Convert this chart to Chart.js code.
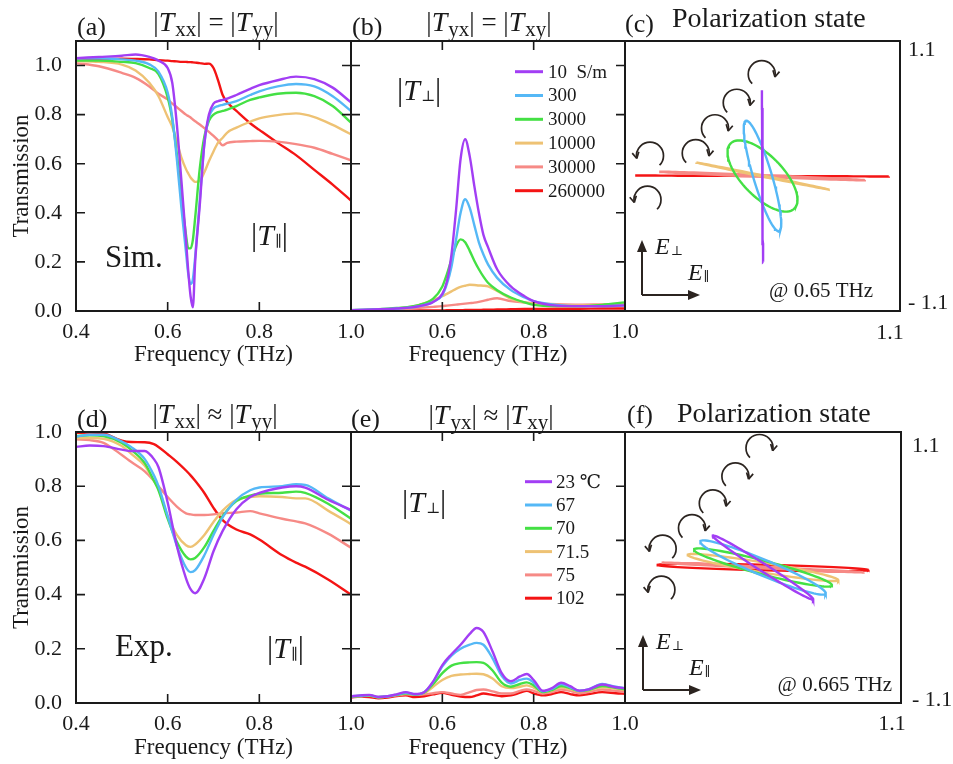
<!DOCTYPE html>
<html>
<head>
<meta charset="utf-8">
<script src="https://cdn.jsdelivr.net/npm/chart.js@4.4.1/dist/chart.umd.min.js"></script>
<style>
html,body{margin:0;padding:0;background:#fff;}
#fig{position:relative;width:953px;height:764px;overflow:hidden;background:#fff;}
canvas{position:absolute;}
</style>
</head>
<body>
<div id="fig"></div>
<script>
// ---------- data ----------
const simLabels = ['10  S/m', '300', '3000', '10000', '30000', '260000'];
const expLabels = ['23 \u2103', '67', '70', '71.5', '75', '102'];
const lineColors = ['#a23ef4', '#55b8f6', '#44e044', '#eec274', '#f68a86', '#f41414'];

const xTicks = [0.4, 0.6, 0.8, 1.0];
const yTicks = [0, 0.2, 0.4, 0.6, 0.8, 1.0];

// (a) simulated |T_par|
const freqA = [0.40,0.45,0.50,0.53,0.56,0.58,0.60,0.61,0.62,0.63,0.64,0.645,0.65,0.655,0.66,0.67,0.68,0.69,0.70,0.71,0.72,0.73,0.75,0.78,0.80,0.84,0.88,0.92,0.96,1.00];
const aPurple = [1.03,1.035,1.04,1.045,1.035,1.02,0.99,0.93,0.76,0.53,0.29,0.16,0.06,0.015,0.20,0.43,0.68,0.80,0.845,0.855,0.86,0.865,0.88,0.905,0.92,0.94,0.955,0.945,0.91,0.85];
const aBlue   = [1.03,1.03,1.025,1.02,1.005,0.975,0.89,0.79,0.62,0.42,0.24,0.15,0.11,0.13,0.22,0.45,0.68,0.79,0.825,0.835,0.84,0.845,0.855,0.88,0.895,0.915,0.925,0.915,0.875,0.815];
const aGreen  = [1.02,1.02,1.015,1.01,0.99,0.965,0.87,0.78,0.64,0.47,0.31,0.255,0.255,0.29,0.38,0.58,0.71,0.775,0.80,0.81,0.815,0.82,0.835,0.86,0.87,0.885,0.889,0.875,0.835,0.767];
const aOrange = [1.018,1.015,1.004,0.98,0.93,0.875,0.79,0.75,0.69,0.625,0.578,0.56,0.544,0.533,0.526,0.53,0.565,0.61,0.65,0.686,0.706,0.727,0.747,0.771,0.785,0.798,0.805,0.79,0.758,0.72];
const aPink   = [1.01,0.997,0.97,0.95,0.915,0.885,0.862,0.845,0.83,0.815,0.80,0.794,0.788,0.78,0.773,0.76,0.745,0.73,0.713,0.695,0.675,0.685,0.69,0.692,0.693,0.69,0.68,0.665,0.64,0.614];
const aRed    = [1.02,1.024,1.028,1.027,1.025,1.022,1.02,1.018,1.017,1.015,1.015,1.014,1.014,1.013,1.012,1.01,1.007,1.008,0.99,0.94,0.88,0.85,0.815,0.765,0.738,0.685,0.635,0.575,0.515,0.45];

// (b) simulated |T_perp|
const freqB = [0.40,0.45,0.50,0.55,0.58,0.60,0.61,0.62,0.63,0.64,0.65,0.66,0.67,0.68,0.69,0.70,0.72,0.75,0.78,0.80,0.85,0.90,0.95,1.00];
const bPurple = [0.003,0.006,0.01,0.02,0.037,0.07,0.12,0.23,0.41,0.62,0.70,0.63,0.51,0.40,0.31,0.26,0.17,0.10,0.06,0.04,0.022,0.02,0.02,0.023];
const bBlue   = [0.003,0.006,0.01,0.02,0.037,0.065,0.11,0.18,0.29,0.40,0.455,0.42,0.35,0.28,0.23,0.19,0.135,0.085,0.055,0.04,0.025,0.02,0.02,0.022];
const bGreen  = [0.003,0.006,0.012,0.025,0.05,0.10,0.15,0.21,0.265,0.292,0.28,0.245,0.205,0.17,0.14,0.115,0.085,0.055,0.035,0.025,0.02,0.02,0.025,0.035];
const bOrange = [0.002,0.005,0.01,0.025,0.045,0.06,0.07,0.08,0.09,0.098,0.103,0.107,0.106,0.104,0.103,0.10,0.082,0.05,0.035,0.03,0.025,0.023,0.025,0.027];
const bPink   = [0.002,0.004,0.008,0.013,0.017,0.02,0.022,0.024,0.026,0.028,0.03,0.032,0.034,0.037,0.041,0.046,0.052,0.04,0.035,0.032,0.028,0.026,0.027,0.028];
const bRed    = [0.001,0.001,0.001,0.002,0.002,0.002,0.003,0.003,0.003,0.003,0.004,0.004,0.004,0.004,0.005,0.005,0.006,0.007,0.008,0.008,0.009,0.009,0.01,0.01];

// (c) polarization ellipses at 0.65 THz: amplitudes and phase difference
const cEx = [0.005, 0.15, 0.28, 0.53, 0.82, 1.01];
const cEy = [0.70, 0.45, 0.29, 0.11, 0.035, 0.004];
const cPhase = [3.1, 2.6, 2.3, 3.1, 2.95, 3.1];
const cArrowX = [-0.90, -0.92, -0.534, -0.38, -0.206, -0.006];
const cArrowY = [0.166, -0.193, 0.186, 0.389, 0.597, 0.83];
const cArrowDir = [-1, -1, 1, 1, 1, 1];

// (d) measured |T_par|
const freqD = [0.40,0.43,0.46,0.50,0.52,0.55,0.57,0.58,0.60,0.62,0.64,0.65,0.66,0.68,0.70,0.72,0.75,0.78,0.80,0.85,0.88,0.90,0.95,1.00];
const dPurple = [0.945,0.95,0.948,0.935,0.93,0.93,0.90,0.87,0.74,0.58,0.46,0.42,0.405,0.46,0.56,0.635,0.715,0.76,0.775,0.795,0.80,0.795,0.75,0.712];
const dBlue   = [0.983,0.99,0.99,0.965,0.945,0.90,0.84,0.80,0.69,0.58,0.50,0.483,0.49,0.545,0.62,0.685,0.75,0.785,0.795,0.80,0.807,0.805,0.755,0.71];
const dGreen  = [0.985,0.988,0.985,0.96,0.935,0.885,0.82,0.785,0.68,0.595,0.54,0.53,0.535,0.575,0.635,0.69,0.745,0.765,0.772,0.776,0.78,0.775,0.735,0.68];
const dOrange = [0.978,0.978,0.975,0.948,0.92,0.875,0.82,0.79,0.69,0.62,0.582,0.576,0.585,0.62,0.668,0.71,0.75,0.76,0.763,0.76,0.755,0.755,0.71,0.66];
const dPink   = [0.973,0.97,0.96,0.915,0.89,0.855,0.82,0.80,0.76,0.725,0.70,0.696,0.694,0.694,0.696,0.70,0.703,0.708,0.70,0.68,0.67,0.663,0.625,0.573];
const dRed    = [0.997,0.998,0.995,0.968,0.963,0.962,0.955,0.945,0.918,0.89,0.858,0.84,0.82,0.775,0.72,0.675,0.64,0.622,0.603,0.545,0.518,0.503,0.456,0.40];

// (e) measured |T_perp|
const freqE = [0.40,0.42,0.44,0.46,0.48,0.50,0.52,0.54,0.56,0.58,0.60,0.62,0.64,0.66,0.675,0.69,0.71,0.73,0.75,0.77,0.785,0.80,0.82,0.84,0.86,0.88,0.90,0.92,0.95,0.98,1.00];
const ePurple = [0.025,0.028,0.03,0.022,0.025,0.032,0.04,0.033,0.04,0.08,0.14,0.18,0.215,0.255,0.277,0.262,0.19,0.11,0.08,0.098,0.107,0.085,0.045,0.055,0.075,0.062,0.045,0.05,0.068,0.058,0.055];
const eBlue   = [0.025,0.027,0.029,0.022,0.025,0.031,0.038,0.032,0.04,0.078,0.135,0.175,0.2,0.215,0.222,0.215,0.165,0.1,0.072,0.085,0.09,0.075,0.043,0.052,0.07,0.058,0.045,0.05,0.07,0.06,0.055];
const eGreen  = [0.024,0.026,0.028,0.021,0.024,0.03,0.036,0.031,0.038,0.07,0.11,0.138,0.147,0.15,0.151,0.148,0.12,0.075,0.06,0.07,0.076,0.065,0.04,0.048,0.063,0.055,0.044,0.048,0.063,0.056,0.05];
const eOrange = [0.024,0.026,0.028,0.021,0.024,0.03,0.035,0.031,0.036,0.06,0.085,0.1,0.105,0.107,0.108,0.106,0.09,0.062,0.055,0.06,0.065,0.057,0.04,0.046,0.058,0.05,0.043,0.047,0.058,0.053,0.048];
const ePink   = [0.024,0.025,0.027,0.022,0.024,0.028,0.032,0.03,0.032,0.036,0.04,0.035,0.03,0.04,0.048,0.05,0.043,0.035,0.035,0.045,0.05,0.045,0.035,0.04,0.05,0.045,0.036,0.04,0.05,0.045,0.044];
const eRed    = [0.02,0.024,0.022,0.017,0.02,0.026,0.028,0.022,0.025,0.032,0.038,0.03,0.024,0.022,0.028,0.035,0.03,0.025,0.028,0.038,0.045,0.035,0.028,0.033,0.04,0.033,0.028,0.033,0.04,0.036,0.034];

// (f) polarization ellipses at 0.665 THz
const fEx = [0.40, 0.50, 0.55, 0.60, 0.80, 0.84];
const fEy = [0.26, 0.22, 0.155, 0.11, 0.04, 0.03];
const fPhase = [3.0, 2.82, 2.76, 2.76, 3.0, 2.3];
const fArrowX = [-0.80, -0.81, -0.566, -0.40, -0.22, -0.028];
const fArrowY = [0.153, -0.18, 0.32, 0.52, 0.74, 0.97];
const fArrowDir = [-1, -1, 1, 1, 1, 1];

// ---------- drawing helpers ----------
const F = '"Liberation Serif","DejaVu Serif",serif';
const ink = '#1a1a1a';

function seg(t, z, extra) { return Object.assign({ t: t, z: z }, extra || {}); }
function fontOf(s) { return (s.i ? 'italic ' : '') + s.z + 'px ' + F; }
function rich(ctx, segs, x, y, align) {
  let w = 0;
  segs.forEach(s => { ctx.font = fontOf(s); s.w = ctx.measureText(s.t).width + (s.dx || 0); w += s.w; });
  let cx = align === 'center' ? x - w / 2 : align === 'right' ? x - w : x;
  ctx.textAlign = 'left';
  ctx.textBaseline = 'alphabetic';
  segs.forEach(s => { ctx.font = fontOf(s); ctx.fillText(s.t, cx, y + (s.dy || 0)); cx += s.w; });
}
function absTitle(s1, rel, s2) {
  return [seg('|', 27), seg('T', 28, { i: 1, dx: 1 }), seg(s1, 21, { dy: 5 }), seg('| ' + rel + ' |', 27),
          seg('T', 28, { i: 1, dx: 1 }), seg(s2, 21, { dy: 5 }), seg('|', 27)];
}
function bigT(sub) { return [seg('|', 31), seg('T', 30, { i: 1, dx: 1 }), seg(sub, 15, { dy: 1 }), seg('|', 31)]; }

function curl(ctx, cx, cy, r, dir) {
  ctx.save();
  ctx.translate(cx, cy);
  ctx.scale(dir, 1);
  const a0 = 135 * Math.PI / 180, a1 = 372 * Math.PI / 180;
  ctx.beginPath(); ctx.arc(0, 0, r, a0, a1, false); ctx.stroke();
  const tx = r * Math.cos(a1), ty = r * Math.sin(a1);
  const dx = -Math.sin(a1), dy = Math.cos(a1);
  ctx.beginPath();
  [0.5, -0.5].forEach(s => {
    const c = Math.cos(s), sn = Math.sin(s);
    const bx = -(dx * c - dy * sn), by = -(dx * sn + dy * c);
    ctx.moveTo(tx, ty); ctx.lineTo(tx + bx * 7, ty + by * 7);
  });
  ctx.stroke();
  ctx.restore();
}

function ellipse(a, b, d) {
  const pts = [];
  for (let k = 0; k <= 90; k++) {
    const t = k * Math.PI / 45;
    pts.push({ x: a * Math.cos(t), y: b * Math.cos(t + d) });
  }
  return pts;
}

const deco = {
  id: 'deco',
  afterDraw(chart, args, o) {
    const ctx = chart.ctx, A = chart.chartArea;
    const L = A.left, T = A.top, R = A.right, B = A.bottom;
    const xs = chart.scales.x, ys = chart.scales.y;
    ctx.save();
    ctx.fillStyle = ink; ctx.strokeStyle = ink;
    ctx.lineWidth = 2;
    ctx.strokeRect(L, T, R - L, B - T);
    if (o.ticks) {
      ctx.lineWidth = 1.6;
      ctx.beginPath();
      xTicks.forEach(v => {
        const p = xs.getPixelForValue(v);
        ctx.moveTo(p, B); ctx.lineTo(p, B - 9);
        ctx.moveTo(p, T); ctx.lineTo(p, T + 9);
      });
      yTicks.forEach(v => {
        const p = ys.getPixelForValue(v);
        ctx.moveTo(L, p); ctx.lineTo(L + 9, p);
        ctx.moveTo(R, p); ctx.lineTo(R - 9, p);
      });
      ctx.stroke();
    }
    rich(ctx, [seg(o.tag, 26)], L + o.tagX, T + o.tagY, 'left');
    rich(ctx, o.title, L + o.titleX, T + o.titleY, o.titleAlign);
    (o.texts || []).forEach(tx => rich(ctx, tx.segs, L + tx.x, T + tx.y, 'left'));
    if (o.legend) {
      const g = o.legend;
      g.labels.forEach((lab, i) => {
        const y = T + g.y0 + g.dy * i;
        ctx.strokeStyle = lineColors[i]; ctx.lineWidth = 3;
        ctx.beginPath(); ctx.moveTo(L + g.x0, y); ctx.lineTo(L + g.x1, y); ctx.stroke();
        ctx.fillStyle = ink; ctx.font = '19px ' + F;
        ctx.textAlign = 'left'; ctx.textBaseline = 'middle';
        ctx.fillText(lab, L + g.tx, y + 1);
      });
    }
    if (o.arrows) {
      ctx.strokeStyle = '#2b2420'; ctx.lineWidth = 1.7;
      o.arrows.x.forEach((vx, i) => {
        curl(ctx, xs.getPixelForValue(vx), ys.getPixelForValue(o.arrows.y[i]), 13.5, o.arrows.dir[i]);
      });
    }
    if (o.efield) {
      const e = o.efield;
      const ox = L + e.x, oy = B - e.y;
      ctx.strokeStyle = '#2b2420'; ctx.fillStyle = '#2b2420'; ctx.lineWidth = 2;
      ctx.beginPath(); ctx.moveTo(ox, oy); ctx.lineTo(ox, oy - 45); ctx.moveTo(ox, oy); ctx.lineTo(ox + 48, oy); ctx.stroke();
      ctx.beginPath(); ctx.moveTo(ox, oy - 55); ctx.lineTo(ox - 5, oy - 43); ctx.lineTo(ox + 5, oy - 43); ctx.closePath(); ctx.fill();
      ctx.beginPath(); ctx.moveTo(ox + 58, oy); ctx.lineTo(ox + 46, oy - 5); ctx.lineTo(ox + 46, oy + 5); ctx.closePath(); ctx.fill();
      ctx.fillStyle = ink;
      rich(ctx, [seg('E', 24, { i: 1, dx: 1 }), seg('\u22A5', 13, { dy: 1 })], ox + 13, oy - 41, 'left');
      rich(ctx, [seg('E', 24, { i: 1, dx: 1 }), seg('\u2225', 13, { dy: 1 })], ox + 46, oy - 15, 'left');
      rich(ctx, [seg(e.at, 21)], R - e.atR, B - e.atB, 'right');
      ctx.font = '22px ' + F; ctx.textBaseline = 'middle'; ctx.textAlign = 'left';
      ctx.fillText('1.1', R + e.topX, T + e.topY);
      ctx.fillText('- 1.1', R + e.topX, B - e.botY);
      ctx.textAlign = 'center';
      ctx.fillText('1.1', R - e.xLabX, B + e.xLabY);
    }
    ctx.restore();
  }
};

function makeCanvas(box, pad) {
  const cv = document.createElement('canvas');
  const W = box.r - box.l + pad.l + pad.r, H = box.b - box.t + pad.t + pad.b;
  cv.width = W; cv.height = H;
  cv.style.left = (box.l - pad.l) + 'px';
  cv.style.top = (box.t - pad.t) + 'px';
  cv.style.width = W + 'px'; cv.style.height = H + 'px';
  document.getElementById('fig').appendChild(cv);
  return cv;
}

function curvePanel(box, pad, o) {
  const cv = makeCanvas(box, pad);
  const datasets = o.series.map((vals, i) => ({
    label: o.labels[i],
    data: o.freq.map((f, k) => ({ x: f, y: vals[k] })),
    borderColor: lineColors[i], borderWidth: 2.4, pointRadius: 0,
    cubicInterpolationMode: 'monotone', fill: false
  }));
  new Chart(cv, {
    type: 'line',
    data: { datasets: datasets },
    options: {
      responsive: false, animation: false, devicePixelRatio: 1,
      layout: { autoPadding: false, padding: { left: o.yLabels ? 0 : pad.l, right: pad.r, top: pad.t, bottom: 0 } },
      plugins: { legend: { display: false }, tooltip: { enabled: false }, deco: o.deco },
      scales: {
        x: {
          type: 'linear', min: 0.4, max: 1.0,
          afterBuildTicks: s => { s.ticks = xTicks.map(v => ({ value: v })); },
          afterFit: s => { s.height = pad.b; },
          grid: { display: false, drawTicks: false }, border: { display: false },
          ticks: { autoSkip: false, maxRotation: 0, padding: 8, color: ink, font: { family: F, size: 22 },
                   callback: v => (o.hide04 && v < 0.45) ? '' : v.toFixed(1) },
          title: { display: true, text: 'Frequency (THz)', color: ink, font: { family: F, size: 23 }, padding: 0 }
        },
        y: {
          type: 'linear', min: 0, max: o.yMax, display: o.yLabels,
          afterBuildTicks: s => { s.ticks = yTicks.map(v => ({ value: v })); },
          afterFit: s => { s.width = o.yLabels ? pad.l : 0; },
          grid: { display: false, drawTicks: false }, border: { display: false },
          ticks: { padding: 14, color: ink, font: { family: F, size: 22 }, callback: v => v.toFixed(1) },
          title: { display: true, text: 'Transmission', color: ink, font: { family: F, size: 23 }, padding: { top: 8, bottom: 0 } }
        }
      }
    },
    plugins: [deco]
  });
}

function polarPanel(box, pad, ex, ey, ph, deco_o) {
  const cv = makeCanvas(box, pad);
  const datasets = ex.map((a, i) => ({
    data: ellipse(a, ey[i], ph[i]),
    borderColor: lineColors[i], borderWidth: 2.4, pointRadius: 0, showLine: true, tension: 0
  }));
  new Chart(cv, {
    type: 'scatter',
    data: { datasets: datasets },
    options: {
      responsive: false, animation: false, devicePixelRatio: 1,
      layout: { autoPadding: false, padding: { left: pad.l, right: pad.r, top: pad.t, bottom: pad.b } },
      plugins: { legend: { display: false }, tooltip: { enabled: false }, deco: deco_o },
      scales: {
        x: { type: 'linear', min: -1.1, max: 1.1, display: false, afterFit: s => { s.height = 0; s.width = 0; } },
        y: { type: 'linear', min: -1.1, max: 1.1, display: false, afterFit: s => { s.height = 0; s.width = 0; } }
      }
    },
    plugins: [deco]
  });
}

// ---------- panels ----------
curvePanel({ l: 76, t: 41, r: 351, b: 311 }, { l: 76, t: 41, r: 25, b: 58 }, {
  freq: freqA, series: [aPurple, aBlue, aGreen, aOrange, aPink, aRed], labels: simLabels,
  yMax: 1.1, yLabels: true, hide04: false,
  deco: { ticks: true, tag: '(a)', tagX: 1, tagY: -6, title: absTitle('xx', '=', 'yy'), titleX: 140, titleY: -10, titleAlign: 'center',
          texts: [{ segs: [seg('Sim.', 31)], x: 29, y: 226 }, { segs: bigT('\u2225'), x: 175, y: 204 }] }
});

curvePanel({ l: 351, t: 41, r: 625, b: 311 }, { l: 20, t: 41, r: 25, b: 58 }, {
  freq: freqB, series: [bPurple, bBlue, bGreen, bOrange, bPink, bRed], labels: simLabels,
  yMax: 1.1, yLabels: false, hide04: true,
  deco: { ticks: true, tag: '(b)', tagX: 1, tagY: -6, title: absTitle('yx', '=', 'xy'), titleX: 138, titleY: -10, titleAlign: 'center',
          texts: [{ segs: bigT('\u22A5'), x: 46, y: 59 }],
          legend: { labels: simLabels, x0: 164, x1: 192, tx: 197, y0: 30.7, dy: 23.8 } }
});

polarPanel({ l: 625, t: 41, r: 900, b: 311 }, { l: 20, t: 41, r: 53, b: 58 }, cEx, cEy, cPhase, {
  tag: '(c)', tagX: 0, tagY: -9, title: [seg('Polarization state', 28)], titleX: 47, titleY: -14, titleAlign: 'left',
  arrows: { x: cArrowX, y: cArrowY, dir: cArrowDir },
  efield: { x: 17, y: 16, at: '@ 0.65 THz', atR: 27, atB: 14, topX: 8, topY: 9, botY: 8, xLabX: 10, xLabY: 22 }
});

curvePanel({ l: 76, t: 432, r: 351, b: 703 }, { l: 76, t: 52, r: 25, b: 59 }, {
  freq: freqD, series: [dPurple, dBlue, dGreen, dOrange, dPink, dRed], labels: expLabels,
  yMax: 1.0, yLabels: true, hide04: false,
  deco: { ticks: true, tag: '(d)', tagX: 1, tagY: -5.5, title: absTitle('xx', '\u2248', 'yy'), titleX: 139, titleY: -9, titleAlign: 'center',
          texts: [{ segs: [seg('Exp.', 31)], x: 39, y: 224 }, { segs: bigT('\u2225'), x: 191, y: 226 }] }
});

curvePanel({ l: 351, t: 432, r: 625, b: 703 }, { l: 20, t: 52, r: 25, b: 59 }, {
  freq: freqE, series: [ePurple, eBlue, eGreen, eOrange, ePink, eRed], labels: expLabels,
  yMax: 1.0, yLabels: false, hide04: true,
  deco: { ticks: true, tag: '(e)', tagX: 0, tagY: -5.5, title: absTitle('yx', '\u2248', 'xy'), titleX: 140, titleY: -8, titleAlign: 'center',
          texts: [{ segs: bigT('\u22A5'), x: 51, y: 80 }],
          legend: { labels: expLabels, x0: 174, x1: 201, tx: 205, y0: 49.7, dy: 23.3 } }
});

polarPanel({ l: 625, t: 432, r: 901, b: 703 }, { l: 20, t: 52, r: 52, b: 59 }, fEx, fEy, fPhase, {
  tag: '(f)', tagX: 2, tagY: -9, title: [seg('Polarization state', 28)], titleX: 52, titleY: -10, titleAlign: 'left',
  arrows: { x: fArrowX, y: fArrowY, dir: fArrowDir },
  efield: { x: 18, y: 13, at: '@ 0.665 THz', atR: 9, atB: 12, topX: 11, topY: 14, botY: 3, xLabX: 9, xLabY: 21 }
});
</script>
</body>
</html>
